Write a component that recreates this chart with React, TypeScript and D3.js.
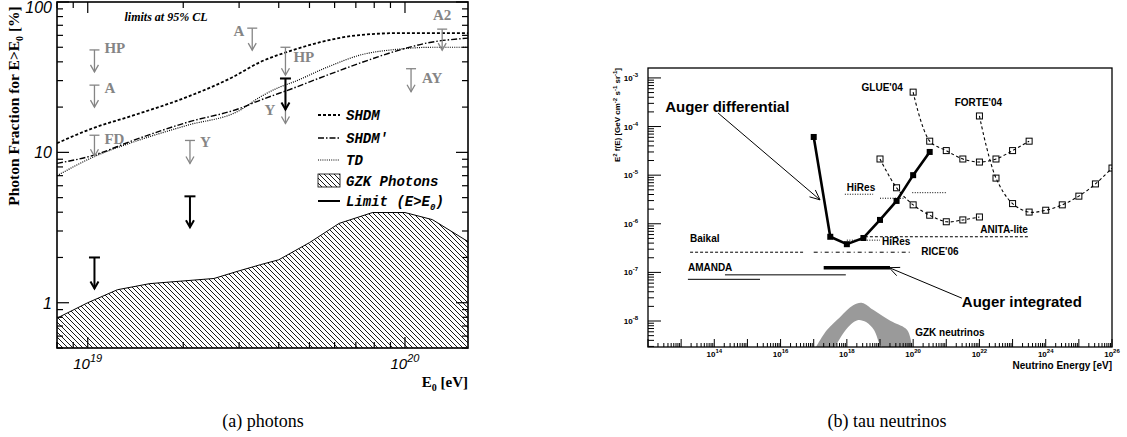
import React from 'react';
import * as d3 from 'd3';

// ================= Panel (a): photon fraction =================
const shdmEnergy = [8e18, 1.04e19, 1.39e19, 2.05e19, 2.86e19, 3.49e19, 4.44e19, 5.4e19, 7.2e19, 9.6e19, 1.58e20];
const shdmFraction = [11.5, 14.5, 17.6, 23.3, 31.6, 39.8, 47.9, 54, 60.3, 62.1, 62];
const shdmPrimeEnergy = [8e18, 1.04e19, 1.39e19, 2.05e19, 3.01e19, 3.49e19, 4.44e19, 5.68e19, 7.2e19, 9.6e19, 1.17e20, 1.58e20];
const shdmPrimeFraction = [8.45, 9.55, 12.0, 15.8, 19.6, 22.2, 26.7, 32.6, 39.2, 47.9, 53.3, 57.5];
const tdEnergy = [8e18, 1.04e19, 1.39e19, 2.05e19, 3.01e19, 3.49e19, 4.0e19, 4.44e19, 5.68e19, 7.2e19, 9.6e19, 1.22e20, 1.58e20];
const tdFraction = [7.0, 9.3, 11.7, 15.1, 19.0, 23.3, 27, 29.3, 36.8, 44.3, 48.6, 50, 50];
const gzkPhotonEnergy = [8e18, 1e19, 1.24e19, 1.57e19, 2.5e19, 3.0e19, 3.5e19, 4.0e19, 5.0e19, 6.2e19, 7.9e19, 1e20, 1.22e20, 1.58e20];
const gzkPhotonFraction = [0.79, 1.0, 1.22, 1.34, 1.45, 1.63, 1.79, 1.93, 2.51, 3.37, 3.98, 3.98, 3.57, 2.55];
const augerLimitEnergy = [1.05e19, 2.1e19, 4.2e19];
const augerLimitFraction = [2.0, 5.1, 31];
const otherLimitLabel = ['HP', 'A', 'FD', 'Y', 'A', 'HP', 'Y', 'AY', 'A2'];
const otherLimitEnergy = [1.05e19, 1.05e19, 1.05e19, 2.1e19, 3.3e19, 4.2e19, 4.2e19, 1.045e20, 1.31e20];
const otherLimitFraction = [48, 28, 13, 12, 67, 50, 31, 36, 66];
const photonYTicks = [1, 10, 100];
const photonXTicks = [1e19, 1e20];
const legendLabels = ['SHDM', "SHDM'", 'TD', 'GZK Photons', 'Limit (E>E'];

// ================= Panel (b): tau neutrinos =================
const augerDiffEnergy = [1e17, 3.16e17, 1e18, 3.16e18, 1e19, 3.16e19, 1e20, 3.16e20];
const augerDiffFlux = [6.1e-5, 5.4e-7, 3.8e-7, 5.1e-7, 1.2e-6, 2.95e-6, 1.0e-5, 3.0e-5];
const augerIntEnergy = [2e17, 2e19];
const augerIntFlux = 1.25e-7;
const glueEnergy = [1e20, 3.16e20, 1e21, 3.16e21, 1e22, 3.16e22, 1e23, 3.16e23];
const glueFlux = [5.1e-4, 5.0e-5, 3.2e-5, 2.15e-5, 1.86e-5, 2.15e-5, 3.2e-5, 5.0e-5];
const forteEnergy = [1e22, 3.16e22, 1e23, 3.16e23, 1e24, 3.16e24, 1e25, 3.16e25, 1e26];
const forteFlux = [1.65e-4, 8.7e-6, 2.6e-6, 1.74e-6, 1.9e-6, 2.45e-6, 3.7e-6, 6.6e-6, 1.4e-5];
const thirdEnergy = [1e19, 3.16e19, 1e20, 3.16e20, 1e21, 3.16e21, 1e22];
const thirdFlux = [2.15e-5, 5.5e-6, 2.45e-6, 1.5e-6, 1.1e-6, 1.2e-6, 1.38e-6];
const baikalEnergy = [1.86e13, 4.8e16];
const baikalFlux = 2.6e-7;
const riceEnergy = [1e17, 9e19];
const riceFlux = 2.6e-7;
const anitaEnergy = [3.5e18, 2.9e23];
const anitaFlux = 5.4e-7;
const hiresLowEnergy = [1e18, 1e19];
const hiresLowFlux = 4.6e-7;
const hiresUpEnergy = [[8.7e17, 6.2e18], [1e19, 5.8e19], [9.4e19, 1e21]];
const hiresUpFlux = [4.05e-6, 3.35e-6, 4.36e-6];
const amandaEnergy = [[1.6e13, 2.4e15], [2.1e14, 9.3e17]];
const amandaFlux = [7.2e-8, 8.9e-8];
const gzkNuUpperEnergy = [1.17e17, 2.5e17, 6.2e17, 1.55e18, 2.9e18, 6.2e18, 1.23e19, 2.45e19, 6.6e19, 9.3e19];
const gzkNuUpperFlux = [2.9e-9, 6.5e-9, 1.2e-8, 2.1e-8, 2.35e-8, 1.7e-8, 1.26e-8, 9.5e-9, 6.5e-9, 2.9e-9];
const gzkNuLowerEnergy = [4.4e17, 7.1e17, 1.26e18, 2.2e18, 3.8e18, 6.6e18, 1e19, 1.15e19];
const gzkNuLowerFlux = [2.9e-9, 5.1e-9, 8.3e-9, 1.05e-8, 9.5e-9, 6.5e-9, 3.2e-9, 2.9e-9];
const nuXTickExponents = [14, 16, 18, 20, 22, 24, 26];
const nuYTickExponents = [-3, -4, -5, -6, -7, -8];

const SANS = "'Liberation Sans', Arial, Helvetica, sans-serif";
const SERIF = "'Liberation Serif', 'Times New Roman', serif";
const MONO = "'Liberation Mono', 'Courier New', monospace";
const GRAY = '#858585';

function logTicks(lo: number, hi: number) {
  const res: { v: number; major: boolean }[] = [];
  for (let d = Math.floor(Math.log10(lo)); d <= Math.ceil(Math.log10(hi)); d++) {
    for (let k = 1; k <= 9; k++) {
      const v = k * Math.pow(10, d);
      if (v >= lo * 0.9999 && v <= hi * 1.0001) res.push({ v, major: k === 1 });
    }
  }
  return res;
}

function arrowHead(x1: number, y1: number, x2: number, y2: number, len = 8, half = 4) {
  const a = Math.atan2(y2 - y1, x2 - x1);
  const bx = x2 - len * Math.cos(a);
  const by = y2 - len * Math.sin(a);
  const px = -Math.sin(a) * half;
  const py = Math.cos(a) * half;
  return `M${bx + px},${by + py}L${x2},${y2}L${bx - px},${by - py}`;
}

export default function App() {
  // ---------- panel (a) scales ----------
  const L = { x0: 57, x1: 468, y0: 2, y1: 348 };
  const xL = d3.scaleLog().domain([8e18, 1.58e20]).range([L.x0, L.x1]);
  const yL = d3.scaleLog().domain([0.5, 100]).range([L.y1, L.y0]);
  const lineL = (E: number[], F: number[]) =>
    d3.line<number>().x((_, i) => xL(E[i])).y((_, i) => yL(F[i])).curve(d3.curveMonotoneX)(E)!;
  const gzkArea = d3
    .area<number>()
    .x((_, i) => xL(gzkPhotonEnergy[i]))
    .y0(yL(0.5))
    .y1((_, i) => yL(gzkPhotonFraction[i]))(gzkPhotonEnergy)!;
  const gzkTop = d3
    .line<number>()
    .x((_, i) => xL(gzkPhotonEnergy[i]))
    .y((_, i) => yL(gzkPhotonFraction[i]))(gzkPhotonEnergy)!;

  // gray limit styling (placement only)
  const grayLen = [22, 22, 21, 23, 22, 28, 45, 23, 21];
  const grayLabelDx = [10, 10, 10, 10, -8, 8, -10, 11, 0];
  const grayLabelDy = [3, 8, 9, 7, 8, 15, 37, 14, -9];
  const grayAnchor = ['start', 'start', 'start', 'start', 'end', 'start', 'end', 'start', 'middle'];

  // ---------- panel (b) scales ----------
  const R = { x0: 648, x1: 1112, y0: 68, y1: 347 };
  const xR = d3.scaleLog().domain([1e12, 1e26]).range([R.x0, R.x1]);
  const yR = d3.scaleLog().domain([2.92e-9, 1.6e-3]).range([R.y1, R.y0]);
  const lineR = (E: number[], V: number[], curve = d3.curveLinear) =>
    d3.line<number>().x((_, i) => xR(E[i])).y((_, i) => yR(V[i])).curve(curve)(E)!;
  const bandUpper = d3
    .line<number>()
    .x((_, i) => xR(gzkNuUpperEnergy[i]))
    .y((_, i) => yR(gzkNuUpperFlux[i]))
    .curve(d3.curveCatmullRom)(gzkNuUpperEnergy)!;
  const lowRev = gzkNuLowerEnergy.map((_, i) => gzkNuLowerEnergy.length - 1 - i);
  const bandLower = d3
    .line<number>()
    .x((j) => xR(gzkNuLowerEnergy[j]))
    .y((j) => yR(gzkNuLowerFlux[j]))
    .curve(d3.curveCatmullRom)(lowRev)!;
  const bandPath = bandUpper + 'L' + bandLower.slice(1) + 'Z';

  const diffArrow = { x1: xR(1.3e14), y1: yR(1.9e-4), x2: xR(1.55e17), y2: yR(3.1e-6) };
  const intArrow = { x1: xR(2.95e21), y1: yR(2.95e-8), x2: xR(1.9e19), y2: yR(1.25e-7) };

  const ticksLY = logTicks(0.5, 100);
  const ticksLX = logTicks(8e18, 1.58e20);
  const ticksRY = logTicks(2.92e-9, 1.6e-3);
  const ticksRX = logTicks(1e12, 1e26);

  const legendY = [115, 138, 160, 181, 201];

  return (
    <svg width={1127} height={437} style={{ position: 'absolute', left: 0, top: 0, background: '#fff' }}>
      <defs>
        <pattern id="hatch" patternUnits="userSpaceOnUse" width={5} height={5}>
          <path d="M-1,-1L6,6M-1,4L1,6M4,-1L6,1" stroke="#000" strokeWidth={0.9} />
        </pattern>
        <clipPath id="clipL">
          <rect x={L.x0} y={L.y0} width={L.x1 - L.x0} height={L.y1 - L.y0} />
        </clipPath>
        <clipPath id="clipR">
          <rect x={R.x0} y={R.y0} width={R.x1 - R.x0} height={R.y1 - R.y0} />
        </clipPath>
      </defs>

      {/* ================= Panel (a) ================= */}
      <g clipPath="url(#clipL)">
        <path d={gzkArea} fill="url(#hatch)" />
        <path d={gzkTop} fill="none" stroke="#000" strokeWidth={1} />
        <path d={lineL(shdmEnergy, shdmFraction)} fill="none" stroke="#000" strokeWidth={1.8} strokeDasharray="3,2" />
        <path d={lineL(shdmPrimeEnergy, shdmPrimeFraction)} fill="none" stroke="#000" strokeWidth={1.4} strokeDasharray="6,2,1.5,2" />
        <path d={lineL(tdEnergy, tdFraction)} fill="none" stroke="#000" strokeWidth={1.2} strokeDasharray="1,1.2" />
      </g>

      {/* gray limits from other experiments */}
      {otherLimitEnergy.map((E, i) => {
        const x = xL(E);
        const y = yL(otherLimitFraction[i]);
        const yb = y + grayLen[i];
        return (
          <g key={'gl' + i}>
            <line x1={x - 5} x2={x + 5} y1={y} y2={y} stroke={GRAY} strokeWidth={1.3} />
            <line x1={x} x2={x} y1={y} y2={yb} stroke={GRAY} strokeWidth={1.3} />
            <path d={arrowHead(x, y, x, yb, 7, 4)} fill="none" stroke={GRAY} strokeWidth={1.3} />
            <text
              x={x + grayLabelDx[i]}
              y={y + grayLabelDy[i]}
              textAnchor={grayAnchor[i] as any}
              fontFamily={SERIF}
              fontWeight="bold"
              fontSize={15}
              fill={GRAY}
            >
              {otherLimitLabel[i]}
            </text>
          </g>
        );
      })}

      {/* Auger limits */}
      {augerLimitEnergy.map((E, i) => {
        const x = xL(E);
        const y = yL(augerLimitFraction[i]);
        const yb = y + 31;
        return (
          <g key={'al' + i}>
            <line x1={x - 5.5} x2={x + 5.5} y1={y} y2={y} stroke="#000" strokeWidth={2} />
            <line x1={x} x2={x} y1={y} y2={yb} stroke="#000" strokeWidth={2} />
            <path d={arrowHead(x, y, x, yb, 7, 4)} fill="none" stroke="#000" strokeWidth={2} />
          </g>
        );
      })}

      <text x={166} y={21} textAnchor="middle" fontFamily={SERIF} fontWeight="bold" fontStyle="italic" fontSize={12}>
        limits at 95% CL
      </text>

      {/* legend */}
      <g>
        <line x1={318} x2={340} y1={legendY[0]} y2={legendY[0]} stroke="#000" strokeWidth={1.8} strokeDasharray="3,2" />
        <line x1={318} x2={340} y1={legendY[1]} y2={legendY[1]} stroke="#000" strokeWidth={1.4} strokeDasharray="6,2,1.5,2" />
        <line x1={318} x2={340} y1={legendY[2]} y2={legendY[2]} stroke="#000" strokeWidth={1.2} strokeDasharray="1,1.2" />
        <rect x={318} y={legendY[3] - 7} width={22} height={13} fill="url(#hatch)" stroke="#000" strokeWidth={0.8} />
        <line x1={318} x2={340} y1={legendY[4]} y2={legendY[4]} stroke="#000" strokeWidth={2} />
        {legendLabels.map((t, i) => (
          <text key={'lg' + i} x={346} y={legendY[i] + 5} fontFamily={MONO} fontWeight="bold" fontStyle="italic" fontSize={14}>
            {t}
            {i === 4 ? (
              <>
                <tspan dy={4} fontSize={9}>0</tspan>
                <tspan dy={-4}>)</tspan>
              </>
            ) : null}
          </text>
        ))}
      </g>

      {/* frame & ticks */}
      <rect x={L.x0} y={L.y0} width={L.x1 - L.x0} height={L.y1 - L.y0} fill="none" stroke="#000" strokeWidth={1.6} />
      {ticksLY.map((t, i) => {
        const y = yL(t.v);
        const len = t.major ? 12 : 6;
        return (
          <g key={'tly' + i}>
            <line x1={L.x0} x2={L.x0 + len} y1={y} y2={y} stroke="#000" strokeWidth={1.2} />
            <line x1={L.x1} x2={L.x1 - len} y1={y} y2={y} stroke="#000" strokeWidth={1.2} />
          </g>
        );
      })}
      {ticksLX.map((t, i) => {
        const x = xL(t.v);
        const len = t.major ? 11 : 6;
        return (
          <g key={'tlx' + i}>
            <line x1={x} x2={x} y1={L.y1} y2={L.y1 - len} stroke="#000" strokeWidth={1.2} />
            <line x1={x} x2={x} y1={L.y0} y2={L.y0 + len} stroke="#000" strokeWidth={1.2} />
          </g>
        );
      })}
      {photonYTicks.map((v) => (
        <text key={'ply' + v} x={52} y={Math.max(yL(v) + 6, 13)} textAnchor="end" fontFamily={SANS} fontStyle="italic" fontSize={16}>
          {v}
        </text>
      ))}
      {photonXTicks.map((v) => (
        <text key={'plx' + v} x={xL(v)} y={369} textAnchor="middle" fontFamily={SANS} fontStyle="italic" fontSize={15}>
          10
          <tspan dy={-7} fontSize={11}>
            {Math.round(Math.log10(v))}
          </tspan>
        </text>
      ))}
      <text x={L.x1} y={387} textAnchor="end" fontFamily={SERIF} fontWeight="bold" fontSize={15}>
        E<tspan dy={4} fontSize={10}>0</tspan>
        <tspan dy={-4}> [eV]</tspan>
      </text>
      <text transform="translate(19,106) rotate(-90)" textAnchor="middle" fontFamily={SERIF} fontWeight="bold" fontSize={15.5}>
        Photon Fraction for E&gt;E<tspan dy={4} fontSize={10}>0</tspan>
        <tspan dy={-4}> [%]</tspan>
      </text>

      {/* ================= Panel (b) ================= */}
      <g clipPath="url(#clipR)">
        <path d={bandPath} fill="#9a9a9a" stroke="none" />
        <line x1={xR(baikalEnergy[0])} x2={xR(baikalEnergy[1])} y1={yR(baikalFlux)} y2={yR(baikalFlux)} stroke="#000" strokeWidth={1} strokeDasharray="3,2" />
        <line x1={xR(riceEnergy[0])} x2={xR(riceEnergy[1])} y1={yR(riceFlux)} y2={yR(riceFlux)} stroke="#000" strokeWidth={1} strokeDasharray="4,3,1,3" />
        <line x1={xR(anitaEnergy[0])} x2={xR(anitaEnergy[1])} y1={yR(anitaFlux)} y2={yR(anitaFlux)} stroke="#000" strokeWidth={1.1} strokeDasharray="3,2" />
        <line x1={xR(hiresLowEnergy[0])} x2={xR(hiresLowEnergy[1])} y1={yR(hiresLowFlux)} y2={yR(hiresLowFlux)} stroke="#000" strokeWidth={1} strokeDasharray="1,1.5" />
        {hiresUpEnergy.map((e, i) => (
          <line key={'hu' + i} x1={xR(e[0])} x2={xR(e[1])} y1={yR(hiresUpFlux[i])} y2={yR(hiresUpFlux[i])} stroke="#000" strokeWidth={1} strokeDasharray="1,1.5" />
        ))}
        {amandaEnergy.map((e, i) => (
          <line key={'am' + i} x1={xR(e[0])} x2={xR(e[1])} y1={yR(amandaFlux[i])} y2={yR(amandaFlux[i])} stroke="#000" strokeWidth={1} />
        ))}
        <line x1={xR(augerIntEnergy[0])} x2={xR(augerIntEnergy[1])} y1={yR(augerIntFlux)} y2={yR(augerIntFlux)} stroke="#000" strokeWidth={3.5} />

        {[
          [glueEnergy, glueFlux],
          [forteEnergy, forteFlux],
          [thirdEnergy, thirdFlux],
        ].map(([E, V], s) => (
          <g key={'os' + s}>
            <path d={lineR(E, V, d3.curveCatmullRom)} fill="none" stroke="#000" strokeWidth={1.1} strokeDasharray="3,2.5" />
            {E.map((e, i) => (
              <rect key={i} x={xR(e) - 3} y={yR(V[i]) - 3} width={6} height={6} fill="none" stroke="#000" strokeWidth={1} />
            ))}
          </g>
        ))}

        <path d={lineR(augerDiffEnergy, augerDiffFlux)} fill="none" stroke="#000" strokeWidth={2.6} />
        {augerDiffEnergy.map((e, i) => (
          <rect key={'ad' + i} x={xR(e) - 3} y={yR(augerDiffFlux[i]) - 3} width={6} height={6} fill="#000" />
        ))}
      </g>

      {/* annotations */}
      <line x1={diffArrow.x1} y1={diffArrow.y1} x2={diffArrow.x2} y2={diffArrow.y2} stroke="#000" strokeWidth={1} />
      <path d={arrowHead(diffArrow.x1, diffArrow.y1, diffArrow.x2, diffArrow.y2, 10, 4.5)} fill="none" stroke="#000" strokeWidth={1} />
      <line x1={intArrow.x1} y1={intArrow.y1} x2={intArrow.x2} y2={intArrow.y2} stroke="#000" strokeWidth={1} />
      <path d={arrowHead(intArrow.x1, intArrow.y1, intArrow.x2, intArrow.y2, 10, 4.5)} fill="none" stroke="#000" strokeWidth={1} />
      <text x={xR(3.3e12)} y={yR(2.0e-4)} fontFamily={SANS} fontWeight="bold" fontSize={15}>Auger differential</text>
      <text x={xR(2.95e21)} y={yR(1.95e-8)} fontFamily={SANS} fontWeight="bold" fontSize={15}>Auger integrated</text>
      <g fontFamily={SANS} fontWeight="bold" fontSize={10}>
        <text x={xR(4.9e19)} y={yR(5.4e-4)} textAnchor="end">GLUE'04</text>
        <text x={xR(1.8e21)} y={yR(2.65e-4)}>FORTE'04</text>
        <text x={xR(1e18)} y={yR(4.7e-6)}>HiRes</text>
        <text x={xR(1.15e19)} y={yR(3.7e-7)}>HiRes</text>
        <text x={xR(1.75e20)} y={yR(2.3e-7)}>RICE'06</text>
        <text x={xR(2.9e23)} y={yR(6.5e-7)} textAnchor="end">ANITA-lite</text>
        <text x={xR(1.86e13)} y={yR(4.2e-7)}>Baikal</text>
        <text x={xR(1.6e13)} y={yR(1.07e-7)}>AMANDA</text>
        <text x={xR(1.15e20)} y={yR(4.9e-9)}>GZK neutrinos</text>
      </g>

      <rect x={R.x0} y={R.y0} width={R.x1 - R.x0} height={R.y1 - R.y0} fill="none" stroke="#000" strokeWidth={1.3} />
      {ticksRY.map((t, i) => {
        const y = yR(t.v);
        const len = t.major ? 13 : 6;
        return <line key={'try' + i} x1={R.x0} x2={R.x0 + len} y1={y} y2={y} stroke="#000" strokeWidth={1} />;
      })}
      {ticksRX.map((t, i) => {
        const x = xR(t.v);
        const len = t.major ? 8 : 4;
        return <line key={'trx' + i} x1={x} x2={x} y1={R.y1} y2={R.y1 - len} stroke="#000" strokeWidth={1} />;
      })}
      <g fontFamily={SANS} fontWeight="bold" fontSize={8}>
        {nuYTickExponents.map((p) => (
          <text key={'ny' + p} x={638} y={yR(Math.pow(10, p)) + 3} textAnchor="end">
            10<tspan dy={-4} fontSize={6}>{p}</tspan>
          </text>
        ))}
        {nuXTickExponents.map((p) => (
          <text key={'nx' + p} x={xR(Math.pow(10, p))} y={357} textAnchor="middle">
            10<tspan dy={-4} fontSize={6}>{p}</tspan>
          </text>
        ))}
      </g>
      <text x={R.x1} y={369} textAnchor="end" fontFamily={SANS} fontWeight="bold" fontSize={10}>
        Neutrino Energy [eV]
      </text>
      <text transform="translate(620,115) rotate(-90)" textAnchor="middle" fontFamily={SANS} fontWeight="bold" fontSize={8}>
        E<tspan dy={-3} fontSize={6}>2</tspan>
        <tspan dy={3}> f(E) [GeV cm</tspan>
        <tspan dy={-3} fontSize={6}>-2</tspan>
        <tspan dy={3}> s</tspan>
        <tspan dy={-3} fontSize={6}>-1</tspan>
        <tspan dy={3}> sr</tspan>
        <tspan dy={-3} fontSize={6}>-1</tspan>
        <tspan dy={3}>]</tspan>
      </text>

      <text x={263} y={427} textAnchor="middle" fontFamily={SERIF} fontSize={18}>(a) photons</text>
      <text x={887} y={427} textAnchor="middle" fontFamily={SERIF} fontSize={18}>(b) tau neutrinos</text>
    </svg>
  );
}
